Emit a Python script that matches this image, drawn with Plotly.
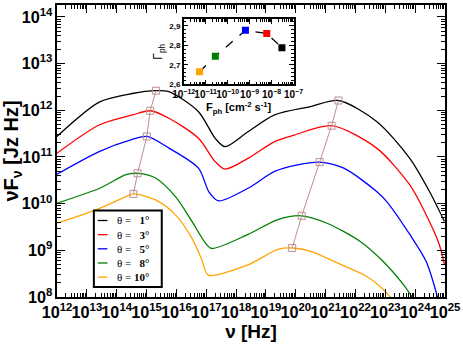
import numpy as np
import plotly.graph_objects as go

# spectra, as log10 values
nu_1 = [12, 13.43, 14.52, 15.32, 15.75, 16.74, 17.30, 17.63, 18.40, 19.29, 20.50, 21.43, 22.71, 23.82, 24.48, 24.98]
f_1 = [11.44, 12.18, 12.36, 12.42, 12.40, 11.97, 11.40, 11.22, 11.54, 11.90, 12.08, 12.21, 11.76, 10.97, 10.26, 9.62]

nu_3 = [12, 13.43, 14.53, 15.12, 15.75, 16.74, 17.30, 17.63, 18.40, 19.29, 19.95, 21.20, 22.71, 23.82, 24.26, 24.81, 24.98]
f_3 = [11.08, 11.69, 11.90, 11.99, 11.83, 11.40, 10.90, 10.74, 10.97, 11.33, 11.47, 11.67, 11.19, 10.40, 9.90, 9.12, 8.70]

nu_5 = [12, 13.43, 14.5, 15.01, 15.75, 16.74, 17.10, 17.41, 18.40, 19.29, 20.06, 20.80, 21.61, 22.71, 23.04, 23.82, 24.37, 24.76]
f_5 = [10.63, 11.12, 11.37, 11.44, 11.19, 10.76, 10.24, 10.06, 10.33, 10.69, 10.83, 10.89, 10.76, 10.26, 10.05, 9.34, 8.76, 7.97]

nu_8 = [12, 13.43, 14.31, 14.70, 15.30, 15.97, 16.52, 16.97, 17.18, 18.40, 19.40, 20.20, 21.05, 22.16, 22.93, 23.60, 23.93]
f_8 = [10.01, 10.33, 10.62, 10.65, 10.55, 10.15, 9.62, 9.16, 9.04, 9.34, 9.66, 9.74, 9.58, 9.19, 8.76, 8.27, 7.97]

nu_10 = [12, 13.43, 14.31, 14.56, 15.30, 15.97, 16.52, 16.85, 17.07, 18.40, 19.40, 19.88, 20.50, 21.39, 22.38, 22.82, 23.21]
f_10 = [9.58, 9.90, 10.15, 10.21, 10.08, 9.76, 9.26, 8.80, 8.47, 8.69, 9.02, 9.05, 8.98, 8.73, 8.44, 8.23, 7.97]

# peak positions (theta = 1, 3, 5, 8, 10)
peak1_nu = [15.32, 15.12, 15.01, 14.70, 14.56]
peak1_f = [12.42, 11.99, 11.44, 10.65, 10.21]
peak2_nu = [21.43, 21.20, 20.80, 20.20, 19.88]
peak2_f = [12.21, 11.67, 10.89, 9.74, 9.05]

# inset: photon flux vs photon index (theta = 10, 8, 5, 3, 1)
f_ph = [-11.28, -10.56, -9.19, -8.22, -7.53]
gamma_ph = [2.665, 2.744, 2.877, 2.861, 2.788]
inset_colors = ['orange', 'green', 'blue', 'red', 'black']

thetas = [1, 3, 5, 8, 10]
colors = ['black', 'red', 'blue', 'green', 'orange']
curves = [(nu_1, f_1), (nu_3, f_3), (nu_5, f_5), (nu_8, f_8), (nu_10, f_10)]

fig = go.Figure()

for (nu, f), col in zip(curves, colors):
    fig.add_trace(go.Scatter(x=10 ** np.array(nu), y=10 ** np.array(f), mode='lines',
                             line=dict(color=col, width=1.3, shape='spline', smoothing=0.8),
                             showlegend=False))

for pnu, pf in [(peak1_nu, peak1_f), (peak2_nu, peak2_f)]:
    fig.add_trace(go.Scatter(x=10 ** np.array(pnu), y=10 ** np.array(pf), mode='lines+markers',
                             line=dict(color='#bc8f8f', width=1),
                             marker=dict(symbol='square-open', size=7, color='#bc8f8f', line=dict(width=1)),
                             showlegend=False))

fig.add_trace(go.Scatter(x=10 ** np.array(f_ph), y=gamma_ph, mode='lines',
                         line=dict(color='black', width=1.3, dash='dash'),
                         xaxis='x2', yaxis='y2', showlegend=False))
fig.add_trace(go.Scatter(x=10 ** np.array(f_ph), y=gamma_ph, mode='markers',
                         marker=dict(symbol='square', size=7, color=inset_colors),
                         xaxis='x2', yaxis='y2', showlegend=False))

# legend box drawn by hand (plotly's own entries are too tall)
lx0, lx1, ly0, ly1 = 0.095, 0.270, 0.034, 0.296
fig.add_shape(type='rect', xref='paper', yref='paper', x0=lx0, x1=lx1, y0=ly0, y1=ly1,
              line=dict(color='black', width=2), fillcolor='white', layer='above')
for i, (th, col) in enumerate(zip(thetas, colors)):
    yy = 0.262 - i * 0.0485
    fig.add_shape(type='line', xref='paper', yref='paper', x0=0.105, x1=0.130, y0=yy, y1=yy,
                  line=dict(color=col, width=1.3), layer='above')
    lab = '\u03b8 = ' + ('\u00a0\u00a0' if th < 10 else '') + '<b>' + str(th) + '\u00b0</b>'
    fig.add_annotation(xref='paper', yref='paper', x=0.150, y=yy, text=lab, showarrow=False,
                       xanchor='left', yanchor='middle',
                       font=dict(family='Liberation Serif, Times New Roman', size=11, color='black'))

bold = dict(family='Liberation Sans, Arial', size=13, color='black', weight='bold')
small = dict(family='Liberation Sans, Arial', size=8, color='black', weight='bold')

fig.update_layout(
    width=463, height=344,
    margin=dict(l=57, r=14, t=3, b=47),
    plot_bgcolor='white', paper_bgcolor='white',
    showlegend=False,
    xaxis=dict(type='log', range=[12, 25.0001], dtick=1, exponentformat='power', tickangle=0,
               ticklabeloverflow='allow',
               showgrid=False, zeroline=False, showline=True, linecolor='black', linewidth=2,
               mirror='allticks', ticks='inside', ticklen=8, tickwidth=1, tickcolor='black',
               minor=dict(ticks='inside', ticklen=4, dtick='D1', tickcolor='black', showgrid=False),
               tickfont=bold,
               title=dict(text='\u03bd [Hz]', font=dict(family='Liberation Sans, Arial', size=19,
                                                        color='black', weight='bold'), standoff=0)),
    yaxis=dict(type='log', range=[8, 14.256], dtick=1, exponentformat='power',
               ticklabeloverflow='allow',
               showgrid=False, zeroline=False, showline=True, linecolor='black', linewidth=2,
               mirror='allticks', ticks='inside', ticklen=8, tickwidth=1, tickcolor='black',
               minor=dict(ticks='inside', ticklen=4, dtick='D1', tickcolor='black', showgrid=False),
               tickfont=bold,
               title=dict(text='\u03bdF<sub>\u03bd</sub> [Jz Hz]', font=dict(family='Liberation Sans, Arial', size=20,
                                                                           color='black', weight='bold'), standoff=2)),
    xaxis2=dict(type='log', range=[-12, -6.9999], dtick=1, exponentformat='power', domain=[0.3265, 0.6097],
                tickangle=0, anchor='y2', showgrid=False, zeroline=False, showline=True,
                linecolor='black', linewidth=1.5, ticklabeloverflow='allow',
                mirror='allticks', ticks='inside', ticklen=5, tickcolor='black',
                minor=dict(ticks='inside', ticklen=3, dtick='D1', tickcolor='black', showgrid=False),
                tickfont=small,
                title=dict(text='F<sub>ph</sub> [cm<sup>-2</sup> s<sup>-1</sup>]',
                           font=dict(family='Liberation Sans, Arial', size=11, color='black', weight='bold'),
                           standoff=2)),
    yaxis2=dict(range=[2.6, 2.935], domain=[0.728, 0.952], anchor='x2',
                tickvals=[2.6, 2.7, 2.8, 2.9], ticktext=['2,6', '2,7', '2,8', '2,9'],
                showgrid=False, zeroline=False, showline=True, linecolor='black', linewidth=1.5,
                mirror='allticks', ticks='inside', ticklen=5, tickcolor='black',
                minor=dict(ticks='inside', ticklen=3, dtick=0.02, tickcolor='black', showgrid=False),
                tickfont=small,
                title=dict(text='\u0393<sub>ph</sub>',
                           font=dict(family='Liberation Sans, Arial', size=12, color='black'),
                           standoff=4)),
)

# page body has an 8px default margin; remove it so the figure sits at the window's corner
fig.write_html("out.html", config={'displayModeBar': False},
               post_script="document.body.style.margin='0';")
